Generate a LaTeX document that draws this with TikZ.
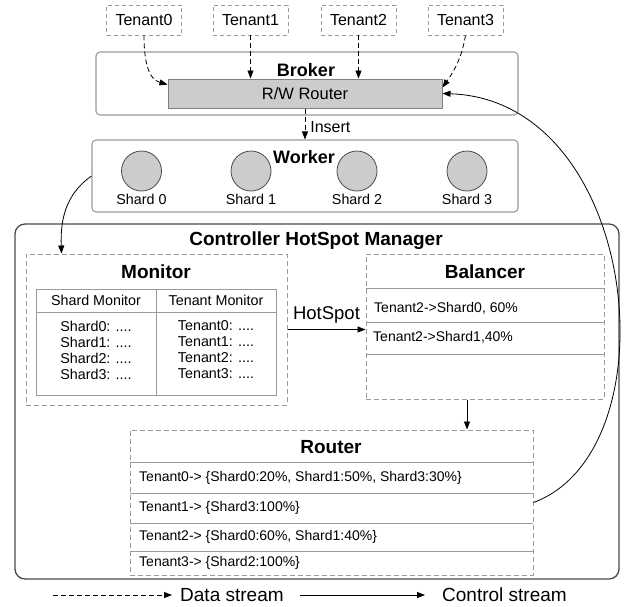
\documentclass[tikz,border=0pt]{standalone}
\usepackage{fontspec}
\setmainfont{Liberation Sans}
\usepackage{xcolor}
\usetikzlibrary{positioning,arrows.meta}

\definecolor{boxline}{HTML}{9A9A9A}
\definecolor{darkline}{HTML}{4A4A4A}
\definecolor{shardgray}{HTML}{CCCCCC}
\newcommand{\fsz}[1]{\fontsize{#1}{#1}\selectfont}

\begin{document}
\begin{tikzpicture}[x=1pt, y=-1pt, >={Triangle[length=8pt,width=6pt]}, inner sep=0pt,
  every node/.style={font=\fsz{14.3}},
  tenant/.style={draw=boxline, line width=0.9pt, dash pattern=on 4pt off 3pt, minimum width=75pt, minimum height=30pt, font=\fsz{16}},
  layer/.style={draw=boxline, line width=1.1pt, rounded corners=4pt},
  part/.style={draw=boxline, line width=1pt, dash pattern=on 5pt off 3pt},
  cell/.style={draw=boxline, line width=1pt, outer sep=0pt},
  shard/.style={circle, draw=darkline, fill=shardgray, line width=0.8pt, minimum size=40pt},
  title/.style={font=\fsz{19}\bfseries},
  layer title/.style={font=\fsz{18}\bfseries},
  row/.style={anchor=west, font=\fsz{14}},
  data/.style={->, dash pattern=on 5pt off 3pt, line width=0.8pt},
  ctrl/.style={->, line width=0.8pt},
  legend/.style={anchor=west, font=\fsz{19}}]
		\useasboundingbox (0,0) rectangle (626,606);

		\foreach \i/\x in {0/144,1/250.5,2/358.5,3/465.5}
			\node[tenant] (t\i) at (\x,20) {Tenant\i};

		\node[layer, minimum width=422pt, minimum height=63pt] (broker) at (307,83.5) {};
		\node[layer title] (brokertitle) at (306,70) {Broker};
		\node[draw=gray, fill=shardgray, line width=1pt, minimum width=274pt, minimum height=29pt, font=\fsz{16.5}] (rw) at (305,93.5) {R/W Router};

		\node[layer, minimum width=426pt, minimum height=72pt] (worker) at (305,176) {};
		\node[layer title] (workertitle) at (304,157) {Worker};
		\foreach \i/\x in {0/141.5,1/251,2/357,3/467} {
			\node[shard] (s\i) at (\x,171) {};
			\node[below=3pt of s\i] (s\i label) {Shard \i};
		}

		\node[draw=darkline, line width=1.3pt, rounded corners=10pt, minimum width=604pt, minimum height=355pt] (manager) at (317,401.5) {};
		\node[title] (managertitle) at (316,241) {Controller HotSpot Manager};

		\node[part, minimum width=261pt, minimum height=151pt] (monitor) at (156.5,329.5) {};
		\node[title] (monitortitle) at (156,272) {Monitor};
		\node[cell, minimum width=120pt, minimum height=23pt] (shead) at (96,300.5) {Shard Monitor};
		\node[cell, minimum width=120pt, minimum height=23pt, right=0pt of shead] (thead) {Tenant Monitor};
		\node[cell, minimum width=120pt, minimum height=83pt, below=0pt of shead] (sbody) {};
		\node[cell, minimum width=120pt, minimum height=83pt, below=0pt of thead] (tbody) {};
		\foreach \i in {0,...,3} {
			\node (sm\i) at (96,326+16*\i) {Shard\i: ....};
			\node (tm\i) at (216,326+16*\i) {Tenant\i: ....};
		}

		\node[part, minimum width=238pt, minimum height=145pt] (balancer) at (485,326.5) {};
		\node[title] (balancertitle) at (485,272) {Balancer};
		\foreach \y in {288.5,322.5,354.5}
			\draw[boxline, line width=1pt] (366,\y) -- (604,\y);
		\node[row] (b0) at (374,308) {Tenant2->Shard0, 60\%};
		\node[row] (b1) at (373,337) {Tenant2->Shard1,40\%};

		\node[part, minimum width=403pt, minimum height=145pt] (router) at (331.5,502.5) {};
		\node[title] (routertitle) at (331,447) {Router};
		\foreach \y in {462,493,523,551}
			\draw[boxline, line width=1pt] (130,\y) -- (533,\y);
		\node[row] (r0) at (139,477.5) {Tenant0-> \{Shard0:20\%, Shard1:50\%, Shard3:30\%\}};
		\node[row] (r1) at (139,508) {Tenant1-> \{Shard3:100\%\}};
		\node[row] (r2) at (139,537) {Tenant2-> \{Shard0:60\%, Shard1:40\%\}};
		\node[row] (r3) at (139,563) {Tenant3-> \{Shard2:100\%\}};

		\draw[data] (t0.south) to[out=-90, in=165] ([yshift=-6pt]rw.north west);
		\draw[data] (t1) -- (t1 |- rw.north);
		\draw[data] (t2) -- (t2 |- rw.north);
		\draw[data] (t3.south) to[out=-100, in=55] ([yshift=-9pt]rw.north east);
		\draw[data] (rw) -- node[right=5pt, pos=0.6, font=\fsz{16}] {Insert} (worker);

		\draw[ctrl] (worker.west) to[out=215, in=92] ([xshift=36pt]monitor.north west);
		\draw[ctrl] (monitor.east) -- node[above=6pt, font=\fsz{18.5}] {HotSpot} (monitor.east -| balancer.west);
		\draw[ctrl] ([xshift=-18pt]balancer.south) -- ([xshift=-18pt]balancer.south |- router.north);
		\draw[ctrl] (router.east) .. controls (675,450) and (640,100) .. (rw.east);

		\node[legend] (datalbl) at (180,595) {Data stream};
		\node[legend] (ctrllbl) at (442,595) {Control stream};
		\coordinate (datafrom) at (53,595);
		\coordinate (ctrlfrom) at (300,595);
		\draw[data] (datafrom) -- ([xshift=-8pt]datalbl.west);
		\draw[ctrl] (ctrlfrom) -- ([xshift=-17pt]ctrllbl.west);
\end{tikzpicture}
\end{document}
